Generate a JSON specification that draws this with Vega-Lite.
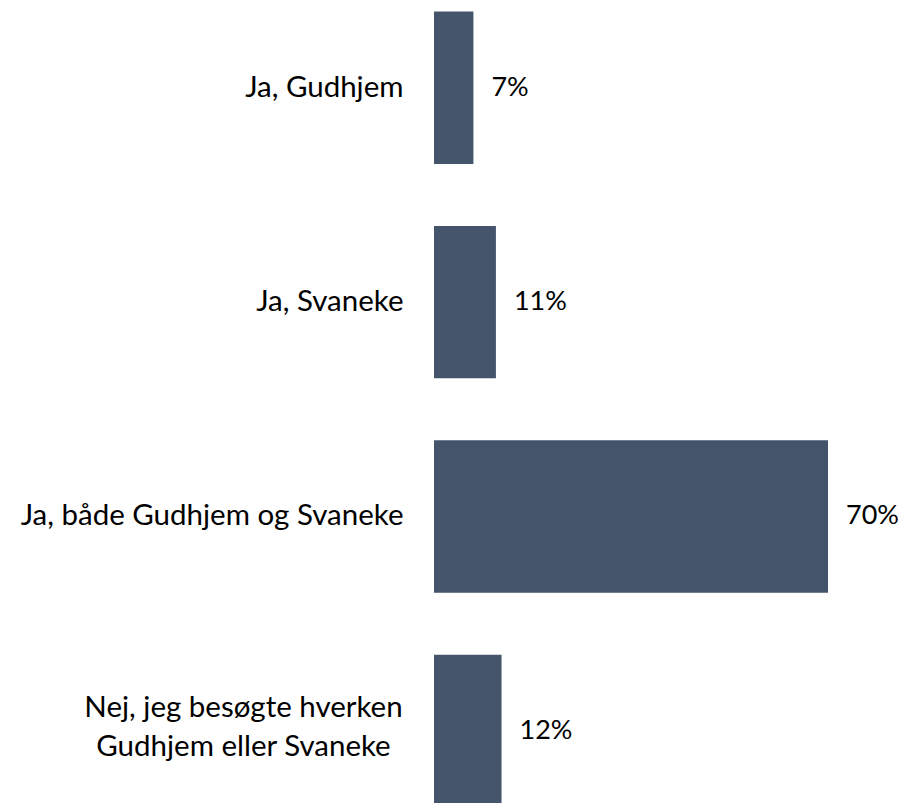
{
  "$schema": "https://vega.github.io/schema/vega-lite/v6.json",
  "autosize": "none",
  "padding": {"left": 434, "top": 0, "right": 78, "bottom": 0},
  "width": 394,
  "height": 818.6,
  "background": "white",
  "config": {"view": {"stroke": null}, "font": "Lato"},
  "data": {
    "values": [
      {"kategori": "Ja, Gudhjem", "andel": 0.07},
      {"kategori": "Ja, Svaneke", "andel": 0.11},
      {"kategori": "Ja, både Gudhjem og Svaneke", "andel": 0.70},
      {"kategori": "Nej, jeg besøgte hverken Gudhjem eller Svaneke", "andel": 0.12}
    ]
  },
  "encoding": {
    "y": {
      "field": "kategori",
      "type": "nominal",
      "sort": null,
      "scale": {"paddingInner": 0.289, "paddingOuter": 0.0536},
      "axis": {
        "title": null,
        "domain": false,
        "ticks": false,
        "labelFont": "Lato",
        "labelFontSize": 29.5,
        "labelColor": "#000000",
        "labelLimit": 500,
        "labelLineHeight": 39,
        "labelExpr": "datum.label == 'Nej, jeg besøgte hverken Gudhjem eller Svaneke' ? ['Nej, jeg besøgte hverken', 'Gudhjem eller Svaneke'] : datum.label",
        "labelAlign": {"condition": {"test": "datum.value == 'Nej, jeg besøgte hverken Gudhjem eller Svaneke'", "value": "center"}, "value": "right"},
        "labelPadding": {"condition": {"test": "datum.value == 'Nej, jeg besøgte hverken Gudhjem eller Svaneke'", "value": 191}, "value": 31},
        "labelOffset": {"condition": {"test": "datum.value == 'Nej, jeg besøgte hverken Gudhjem eller Svaneke'", "value": -23}, "value": 0}
      }
    },
    "x": {
      "field": "andel",
      "type": "quantitative",
      "scale": {"domain": [0, 0.7], "nice": false, "zero": true},
      "axis": null
    }
  },
  "layer": [
    {"mark": {"type": "bar", "color": "#44546A"}},
    {
      "mark": {"type": "text", "align": "left", "baseline": "middle", "dx": 18, "font": "Lato", "fontSize": 27, "color": "#000000"},
      "encoding": {"text": {"field": "andel", "type": "quantitative", "format": ".0%"}}
    }
  ]
}
